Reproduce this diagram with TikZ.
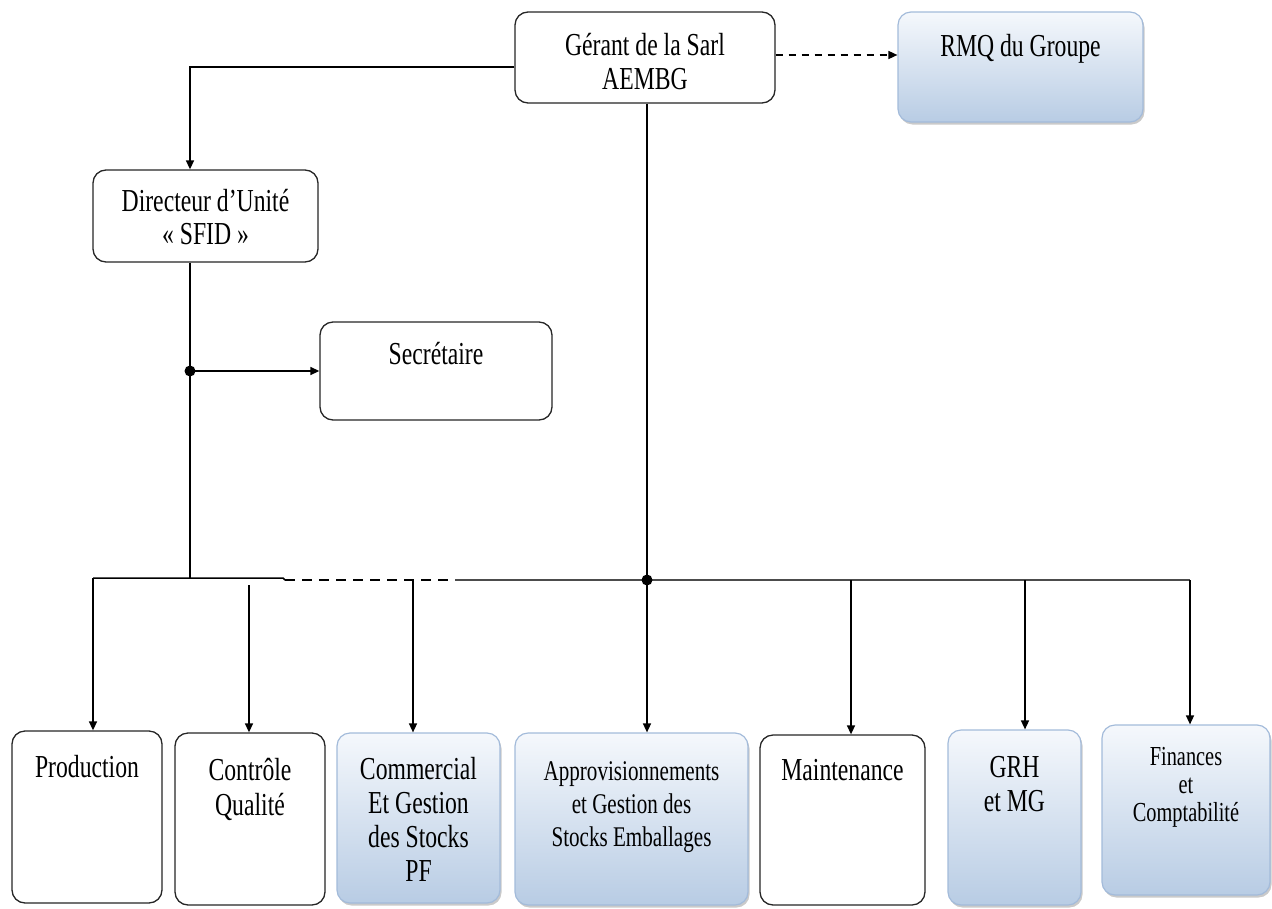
\documentclass[tikz,border=0pt]{standalone}
\usepackage{fontspec}
\setmainfont{Liberation Serif}[FakeStretch=0.74]
\usetikzlibrary{arrows.meta,shadows,calc}
\definecolor{bluetop}{HTML}{F5F8FC}
\definecolor{bluebot}{HTML}{B8CCE4}
\definecolor{blueedge}{HTML}{A3BBDA}
\tikzset{
  wbox/.style={draw=black!85, line width=1.3pt, rounded corners=13pt, fill=white, inner sep=0pt},
  bbox/.style={draw=blueedge, line width=1.2pt, rounded corners=13pt, top color=bluetop, bottom color=bluebot,
     inner sep=0pt, drop shadow={shadow xshift=1.5pt, shadow yshift=-2.5pt, opacity=0.35, fill=black!60}},
  lbl/.style={anchor=north, align=center, inner sep=0pt, font=\fontsize{32}{34}\selectfont},
  conn/.style={line width=1.5pt, black},
  arr/.style={conn, -{Triangle[length=9pt,width=8pt]}},
  dot/.style={circle, fill=black, inner sep=0pt, minimum width=9pt, minimum height=11pt},
}
\begin{document}
\begin{tikzpicture}[x=1pt,y=-1pt]
\useasboundingbox (0,0) rectangle (1272,908);
% top level
\node[wbox, minimum width=260pt, minimum height=91pt] (ger) at (645,57.5) {};
\node[lbl] (gerT) at ([yshift=-20.2pt]ger.north) {\strut Gérant de la Sarl\\AEMBG};
\node[bbox, minimum width=245pt, minimum height=110pt] (rmq) at (1020.5,67) {};
\node[lbl] (rmqT) at ([yshift=-20.7pt]rmq.north) {\strut RMQ du Groupe};
\node[wbox, minimum width=225pt, minimum height=92pt] (dir) at (205.5,216) {};
\node[lbl, font=\fontsize{32}{33}\selectfont] (dirT) at ([yshift=-19pt]dir.north) {\strut Directeur d’Unité\\« SFID »};
\node[wbox, minimum width=232pt, minimum height=98pt] (sec) at (436,371) {};
\node[lbl] (secT) at ([yshift=-18.7pt]sec.north) {\strut Secrétaire};
% bottom level
\node[wbox, minimum width=150pt, minimum height=172pt] (prod) at (87,817) {};
\node[lbl] (prodT) at ([yshift=-22.7pt]prod.north) {\strut Production};
\node[wbox, minimum width=150pt, minimum height=172pt] (ctrl) at (250,819) {};
\node[lbl, font=\fontsize{32}{35}\selectfont] (ctrlT) at ([yshift=-23pt]ctrl.north) {\strut Contrôle\\Qualité};
\node[bbox, minimum width=163pt, minimum height=170pt] (comm) at (418.5,818) {};
\node[lbl] (commT) at ([yshift=-22.7pt]comm.north) {\strut Commercial\\Et Gestion\\des Stocks\\PF};
\node[bbox, minimum width=233pt, minimum height=172pt] (appro) at (631.5,819) {};
\node[lbl, font=\fontsize{28.5}{33}\selectfont] (approT) at ([yshift=-24.4pt]appro.north) {\strut Approvisionnements\\et Gestion des\\Stocks Emballages};
\node[wbox, minimum width=165pt, minimum height=170pt] (maint) at (842.5,820) {};
\node[lbl] (maintT) at ([yshift=-21.7pt]maint.north) {\strut Maintenance};
\node[bbox, minimum width=133pt, minimum height=175pt] (grh) at (1014.5,817.5) {};
\node[lbl] (grhT) at ([yshift=-23.7pt]grh.north) {\strut GRH\\et MG};
\node[bbox, minimum width=168pt, minimum height=170pt] (fin) at (1186,810) {};
\node[lbl, font=\fontsize{27.5}{28}\selectfont] (finT) at ([yshift=-21pt]fin.north) {\strut Finances\\et\\Comptabilité};
% connectors from top
\draw[arr] ([yshift=-9.5pt]ger.west) -| ([xshift=-15.5pt]dir.north);
\draw[conn, dash pattern=on 7pt off 6pt, -{Triangle[length=9pt,width=8pt]}] ([yshift=2.5pt]ger.east) -- ([yshift=2.5pt]ger.east -| rmq.west);
% director branch
\coordinate (dirB) at ([xshift=-15.5pt]dir.south);
\coordinate (busL) at (93,578);
\coordinate (busM) at (283,578);
\node[dot] (secDot) at (dirB |- sec.west) {};
\draw[conn] (dirB) -- (dirB |- busL);
\draw[arr] (secDot.center) -- (sec.west);
% bus
\coordinate (busD) at (285,580);
\coordinate (busG) at (455,580);
\coordinate (busR) at (1190,580);
\draw[conn] (busL) -- (busM) -- (busD);
\draw[conn, dash pattern=on 10pt off 7pt] (busD) -- (busG);
\draw[line width=2.2pt, black!70] (busG) -- (busR);
\node[dot] (busDot) at (647,580) {};
% drop points on the bus
\coordinate (vCtrl) at (249,585);
\coordinate (vComm) at (413,581);
\coordinate (vMaint) at (851,580);
\coordinate (vGrh) at (1025,580);
% vertical arrows
\draw[arr] (busL) -- (busL |- prod.north);
\draw[arr] (vCtrl) -- (vCtrl |- ctrl.north);
\draw[arr] (vComm) -- (vComm |- comm.north);
\draw[conn] (ger.south -| busDot) -- (busDot.center);
\draw[arr] (busDot.center) -- (busDot |- appro.north);
\draw[arr] (vMaint) -- (vMaint |- maint.north);
\draw[arr] (vGrh) -- (vGrh |- grh.north);
\draw[arr] (busR) -- (busR |- fin.north);
\end{tikzpicture}
\end{document}
